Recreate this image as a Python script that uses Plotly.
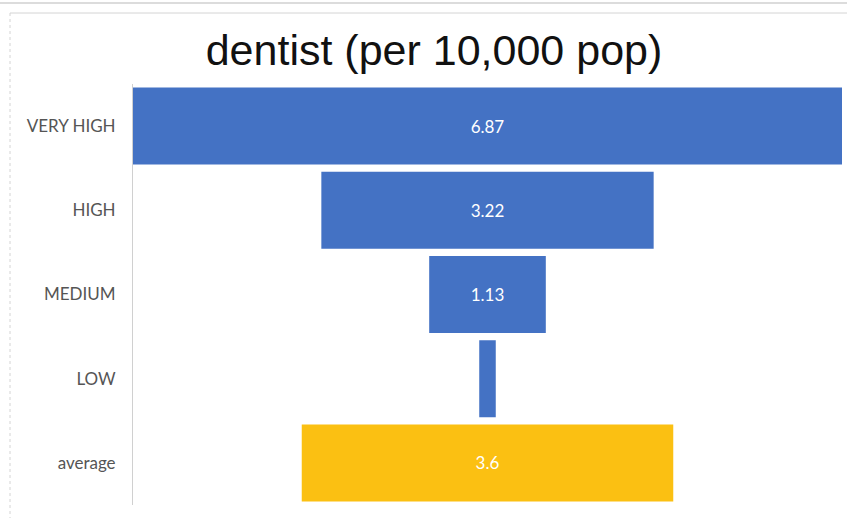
import plotly.graph_objects as go

# Dentists per 10,000 population by development group
categories = ["VERY HIGH", "HIGH", "MEDIUM", "LOW", "average"]
values = [6.87, 3.22, 1.13, 0.16, 3.6]
bar_colors = ["#4472C4", "#4472C4", "#4472C4", "#4472C4", "#FBC012"]

W, H = 847, 518
M_L, M_R, M_T, M_B = 133, 5, 84, 13
plot_w = W - M_L - M_R
plot_h = H - M_T - M_B


def px_x(p):
    return (p - M_L) / plot_w


def px_y(p):
    return (H - M_B - p) / plot_h


fig = go.Figure(
    go.Funnel(
        y=categories,
        x=values,
        marker=dict(color=bar_colors, line=dict(width=0)),
        connector=dict(visible=False),
        textposition="inside",
        texttemplate="%{x}",
        textfont=dict(family="Lato", size=17, color="white"),
        insidetextanchor="middle",
        hoverinfo="y+x",
    )
)

frame = dict(color="#d4d4d4", width=1)
fig.update_layout(
    width=W,
    height=H,
    margin=dict(l=M_L, r=M_R, t=M_T, b=M_B, pad=0),
    paper_bgcolor="white",
    plot_bgcolor="white",
    funnelgap=0.085,
    showlegend=False,
    uniformtext=dict(minsize=16, mode="hide"),
    title=dict(
        text="dentist (per 10,000 pop)",
        font=dict(family="Liberation Sans", size=43, color="#111111"),
        x=434 / W,
        xanchor="center",
        y=1 - 50 / H,
        yanchor="middle",
        xref="container",
        yref="container",
    ),
    xaxis=dict(visible=False, range=[-max(values) / 2, max(values) / 2]),
    yaxis=dict(
        showline=True,
        linecolor="#d0d0d0",
        linewidth=1,
        showgrid=False,
        ticks="",
        ticklabelstandoff=13,
        tickfont=dict(family="Lato", size=17, color="#555555"),
    ),
    shapes=[
        # outer sheet line
        dict(type="line", xref="paper", yref="paper",
             x0=px_x(0), x1=px_x(W), y0=px_y(3), y1=px_y(3),
             line=dict(color="#dcdcdc", width=2)),
        # chart frame
        dict(type="line", xref="paper", yref="paper",
             x0=px_x(10), x1=px_x(W), y0=px_y(13), y1=px_y(13),
             line=frame),
        dict(type="line", xref="paper", yref="paper",
             x0=px_x(10), x1=px_x(10), y0=px_y(13), y1=px_y(H),
             line=dict(color="#d4d4d4", width=1, dash="dot")),
    ],
)

fig.write_html("out.html")
